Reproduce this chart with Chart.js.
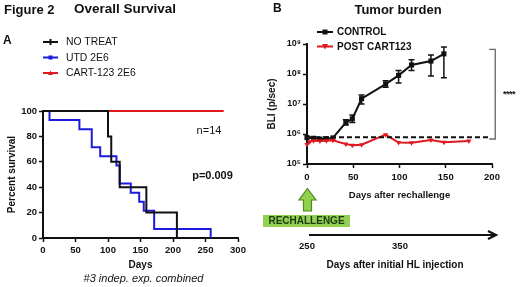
<!DOCTYPE html>
<html><head><meta charset="utf-8">
<script src="https://cdn.jsdelivr.net/npm/chart.js@4/dist/chart.umd.min.js"></script>
<style>
html,body{margin:0;padding:0;background:#fff;}
body{width:520px;height:287px;position:relative;overflow:hidden;font-family:"Liberation Sans",Arial,sans-serif;color:#111;}
.t{position:absolute;white-space:nowrap;line-height:1;transform:translate(-50%,-50%);}
.l{position:absolute;white-space:nowrap;line-height:1;transform:translateY(-50%);}
.b{font-weight:bold;}
canvas{position:absolute;}
svg{position:absolute;left:0;top:0;}
</style></head><body>
<canvas id="c1" width="255" height="187" style="left:0;top:100px"></canvas>
<canvas id="c2" width="262" height="172" style="left:258px;top:30px"></canvas>
<svg width="520" height="287" viewBox="0 0 520 287">
  <!-- left legend glyphs -->
  <line x1="43" y1="42" x2="58" y2="42" stroke="#111" stroke-width="2"/>
  <line x1="50.5" y1="39" x2="50.5" y2="45" stroke="#111" stroke-width="2"/>
  <line x1="43" y1="57.5" x2="58" y2="57.5" stroke="#1b1bde" stroke-width="2"/>
  <rect x="48.5" y="55.5" width="4" height="4" fill="#1b1bde"/>
  <line x1="43" y1="73" x2="58" y2="73" stroke="#e0181f" stroke-width="2"/>
  <polygon points="50.5,70.5 53,75 48,75" fill="#e0181f"/>
  <!-- right legend glyphs -->
  <line x1="317" y1="32" x2="333" y2="32" stroke="#111" stroke-width="2"/>
  <rect x="322.5" y="29.5" width="5" height="5" fill="#111"/>
  <line x1="317" y1="46.5" x2="333" y2="46.5" stroke="#e0181f" stroke-width="2"/>
  <polygon points="322,44 328,44 325,49.5" fill="#e0181f"/>
  <!-- green rechallenge arrow -->
  <polygon points="307.5,188.5 316,200 311.5,200 311.5,211 303.5,211 303.5,200 299,200" fill="#92d050" stroke="#4a8a1c" stroke-width="1.2"/>
  <rect x="263" y="215" width="87" height="12" fill="#92d050"/>
  <!-- days after initial HL injection arrow -->
  <line x1="309" y1="235" x2="495" y2="235" stroke="#111" stroke-width="2"/>
  <polyline points="488,231 496,235 488,239" fill="none" stroke="#111" stroke-width="2.2"/>
</svg>

<div class="l b" style="left:4px;top:9px;font-size:13px">Figure 2</div>
<div class="l b" style="left:74px;top:9px;font-size:13.5px">Overall Survival</div>
<div class="l b" style="left:3px;top:40px;font-size:12px">A</div>
<div class="l b" style="left:273px;top:8px;font-size:12px">B</div>
<div class="t b" style="left:398px;top:9px;font-size:13px">Tumor burden</div>

<div class="l" style="left:66px;top:42px;font-size:10.4px">NO TREAT</div>
<div class="l" style="left:66px;top:57.5px;font-size:10.4px">UTD 2E6</div>
<div class="l" style="left:66px;top:73px;font-size:10.4px">CART-123 2E6</div>

<div class="l b" style="left:337px;top:32px;font-size:10px">CONTROL</div>
<div class="l b" style="left:337px;top:46.5px;font-size:10px">POST CART123</div>

<div class="t" style="left:209px;top:129.5px;font-size:11px">n=14</div>
<div class="t b" style="left:212.5px;top:175px;font-size:11px">p=0.009</div>
<div class="t" style="left:143.5px;top:278px;font-size:11px;font-style:italic">#3 indep. exp. combined</div>

<div class="t b" style="left:509px;top:94px;font-size:9px;letter-spacing:-0.5px">****</div>

<div class="t b" style="left:306.5px;top:221px;font-size:10px;color:#1e3a10">RECHALLENGE</div>
<div class="t b" style="left:307px;top:246px;font-size:9.5px">250</div>
<div class="t b" style="left:400px;top:246px;font-size:9.5px">350</div>
<div class="t b" style="left:395px;top:265px;font-size:10px">Days after initial HL injection</div>

<script>
// ---------- Panel A: Kaplan-Meier overall survival ----------
const noTreatDays = [0, 100, 105, 118, 159, 206];
const noTreatSurv = [100, 80, 60, 40, 20, 0];
const utdDays = [0, 10, 56, 75, 88, 113, 118, 135, 148, 155, 171, 258];
const utdSurv = [100, 92.86, 85.71, 71.43, 64.29, 57.14, 42.86, 35.71, 28.57, 21.43, 7.14, 0];
const cartDays = [0, 278];
const cartSurv = [100, 100];
const survivalTicksX = [0, 50, 100, 150, 200, 250, 300];
const survivalTicksY = [0, 20, 40, 60, 80, 100];

// ---------- Panel B: tumor burden (BLI) ----------
const controlDays = [0, 7, 14, 21, 28, 42, 49, 59, 85, 99, 113, 134, 148];
const controlBLI  = [7.6e5, 7.2e5, 6.8e5, 7.0e5, 7.4e5, 2.4e6, 3.2e6, 1.5e7, 4.6e7, 9.0e7, 2.0e8, 2.7e8, 4.7e8];
const controlLow  = [null, null, null, null, null, 2.0e6, 2.4e6, 1.0e7, 3.6e7, 5.0e7, 1.3e8, 8.5e7, 7.5e7];
const controlHigh = [null, null, null, null, null, 3.0e6, 4.3e6, 2.0e7, 5.9e7, 1.3e8, 3.0e8, 4.3e8, 8.0e8];
const postDays = [0, 3, 7, 14, 21, 28, 42, 49, 59, 85, 99, 113, 134, 148, 175];
const postBLI  = [4.5e5, 5.5e5, 6.0e5, 5.8e5, 6.0e5, 6.2e5, 4.6e5, 4.2e5, 4.4e5, 9.5e5, 5.2e5, 5.1e5, 6.3e5, 5.3e5, 5.8e5];
const thresholdDays = [0, 196];
const thresholdBLI = [7.8e5, 7.8e5];
const bracketDays = [197, 203.5, 203.5, 197];
const bracketBLI  = [6.6e8, 6.6e8, 6.8e5, 6.8e5];
const bliTicks = [1e5, 1e6, 1e7, 1e8, 1e9];
const rechallengeTicksX = [0, 50, 100, 150, 200];

const FONT = "'Liberation Sans', Arial, sans-serif";
Chart.defaults.font.family = FONT;
Chart.defaults.color = '#111';
const BLACK = '#111', BLUE = '#1b1bde', RED = '#e0181f';
const pts = (xs, ys) => xs.map((x, i) => ({x, y: ys[i]}));
const sup = {'0':'⁰','1':'¹','2':'²','3':'³','4':'⁴','5':'⁵','6':'⁶','7':'⁷','8':'⁸','9':'⁹'};

function axisCommon(min, max, ticksArr, fontSize) {
  return {
    min, max,
    afterBuildTicks: s => { s.ticks = ticksArr.map(v => ({value: v})); },
    ticks: {font: {size: fontSize, weight: 'bold'}, color: '#111', padding: 2, autoSkip: false, maxRotation: 0},
    grid: {drawOnChartArea: false, drawTicks: true, tickLength: 4, tickColor: BLACK, tickWidth: 1.5},
    border: {display: true, color: BLACK, width: 2}
  };
}

// Panel A
const xA = axisCommon(0, 300, survivalTicksX, 9.5);
xA.type = 'linear';
xA.ticks.padding = 3;
xA.title = {display: true, text: 'Days', font: {size: 10, weight: 'bold'}, color: '#111', padding: {top: 0, bottom: 2}};
xA.afterFit = s => { s.height = 35; };
const yA = axisCommon(0, 100, survivalTicksY, 9.5);
yA.type = 'linear';
yA.title = {display: true, text: 'Percent survival', font: {size: 10, weight: 'bold'}, color: '#111', padding: {top: 6, bottom: 0}};
yA.afterFit = s => { s.width = 43; };

new Chart(document.getElementById('c1'), {
  type: 'line',
  data: {datasets: [
    {label: 'NO TREAT', data: pts(noTreatDays, noTreatSurv), borderColor: BLACK, borderWidth: 2, stepped: 'before', pointRadius: 0, clip: false},
    {label: 'UTD 2E6', data: pts(utdDays, utdSurv), borderColor: BLUE, borderWidth: 2, stepped: 'before', pointRadius: 0, clip: false},
    {label: 'CART-123 2E6', data: pts(cartDays, cartSurv), borderColor: RED, borderWidth: 2, stepped: 'before', pointRadius: 0, clip: false}
  ]},
  options: {
    responsive: false, animation: false, devicePixelRatio: 1,
    layout: {padding: {top: 11, right: 17, left: 0, bottom: 14}},
    plugins: {legend: {display: false}, tooltip: {enabled: false}},
    scales: {x: xA, y: yA}
  }
});

// Panel B
const errorBars = {
  id: 'errorBars',
  afterDatasetsDraw(chart) {
    const {ctx, scales: {x, y}} = chart;
    ctx.save();
    ctx.strokeStyle = BLACK; ctx.lineWidth = 1.5;
    controlDays.forEach((d, i) => {
      if (controlLow[i] == null) return;
      const px = x.getPixelForValue(d);
      const lo = y.getPixelForValue(controlLow[i]);
      const hi = y.getPixelForValue(controlHigh[i]);
      ctx.beginPath();
      ctx.moveTo(px, lo); ctx.lineTo(px, hi);
      ctx.moveTo(px - 3, lo); ctx.lineTo(px + 3, lo);
      ctx.moveTo(px - 3, hi); ctx.lineTo(px + 3, hi);
      ctx.stroke();
    });
    ctx.restore();
  }
};

const xB = axisCommon(0, 200, rechallengeTicksX, 9.5);
xB.type = 'linear';
xB.ticks.padding = 4;
xB.title = {display: true, text: 'Days after rechallenge', font: {size: 9.5, weight: 'bold'}, color: '#111', padding: {top: 0, bottom: 1}};
xB.afterFit = s => { s.height = 38; };
const yB = axisCommon(1e5, 1e9, bliTicks, 9);
yB.type = 'logarithmic';
yB.ticks.callback = v => { const e = Math.round(Math.log10(v)); return '10' + sup[String(e)]; };
yB.title = {display: true, text: 'BLI (p/sec)', font: {size: 10, weight: 'bold'}, color: '#111', padding: {top: 8, bottom: 0}};
yB.afterFit = s => { s.width = 49; };

new Chart(document.getElementById('c2'), {
  type: 'line',
  data: {datasets: [
    {label: 'threshold', data: pts(thresholdDays, thresholdBLI), borderColor: BLACK, borderWidth: 2, borderDash: [5, 3], pointRadius: 0, clip: false},
    {label: 'bracket', data: pts(bracketDays, bracketBLI), borderColor: '#666', borderWidth: 1.3, pointRadius: 0, clip: false},
    {label: 'POST CART123', data: pts(postDays, postBLI), borderColor: RED, backgroundColor: RED, borderWidth: 2, pointStyle: 'triangle', rotation: 180, pointRadius: 3, pointBorderWidth: 0, clip: false},
    {label: 'CONTROL', data: pts(controlDays, controlBLI), borderColor: BLACK, backgroundColor: BLACK, borderWidth: 2, pointStyle: 'rect', pointRadius: 3.6, pointBorderWidth: 0, clip: false}
  ]},
  options: {
    responsive: false, animation: false, devicePixelRatio: 1,
    layout: {padding: {top: 14, right: 28, left: 0, bottom: 0}},
    plugins: {legend: {display: false}, tooltip: {enabled: false}},
    scales: {x: xB, y: yB}
  },
  plugins: [errorBars]
});
</script>
</body></html>
